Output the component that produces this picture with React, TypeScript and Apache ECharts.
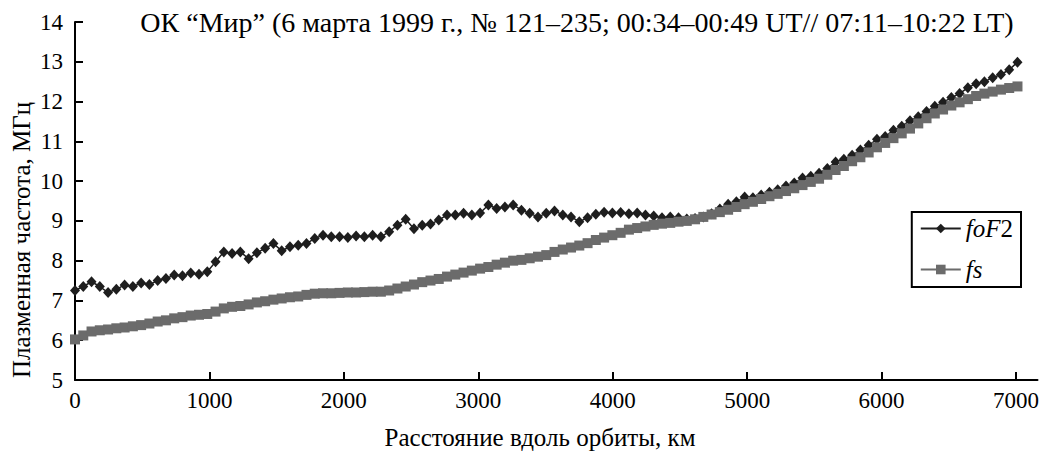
import React, { useEffect, useRef } from "react";
import * as echarts from "echarts";

// measurement step along the orbit (№ 121–235 → 115 points)
const KM_PER_POINT = 61.5;

const foF2Values = [
  7.25, 7.35, 7.47, 7.35, 7.2, 7.28, 7.39, 7.35, 7.44, 7.4,
  7.5, 7.55, 7.64, 7.62, 7.69, 7.66, 7.72, 7.97, 8.22, 8.18,
  8.22, 8.05, 8.2, 8.31, 8.43, 8.25, 8.35, 8.39, 8.43, 8.56,
  8.64, 8.6, 8.6, 8.58, 8.62, 8.6, 8.64, 8.6, 8.73, 8.89,
  9.04, 8.8, 8.89, 8.92, 9.02, 9.15, 9.15, 9.19, 9.15, 9.2,
  9.4, 9.31, 9.35, 9.4, 9.27, 9.19, 9.1, 9.19, 9.25, 9.15,
  9.1, 8.98, 9.08, 9.17, 9.22, 9.2, 9.21, 9.18, 9.2, 9.15,
  9.12, 9.08, 9.1, 9.08, 9.05, 9.06, 9.1, 9.18, 9.3, 9.42,
  9.48, 9.6, 9.58, 9.65, 9.72, 9.78, 9.88, 9.95, 10.08, 10.12,
  10.2, 10.32, 10.48, 10.55, 10.65, 10.78, 10.9, 11.05, 11.12, 11.28,
  11.38, 11.52, 11.62, 11.75, 11.88, 11.98, 12.1, 12.2, 12.35, 12.45,
  12.5, 12.6, 12.68, 12.8, 12.99,
];

const fsValues = [
  6.02, 6.12, 6.22, 6.25, 6.27, 6.3, 6.32, 6.35, 6.38, 6.42,
  6.47, 6.5, 6.55, 6.58, 6.62, 6.64, 6.66, 6.72, 6.8, 6.84,
  6.86, 6.9, 6.95, 6.98, 7.02, 7.05, 7.08, 7.1, 7.14, 7.17,
  7.18, 7.18, 7.19, 7.2, 7.2, 7.21, 7.22, 7.22, 7.25, 7.3,
  7.35, 7.4, 7.46, 7.5, 7.54, 7.6, 7.65, 7.7, 7.75, 7.8,
  7.84, 7.9, 7.95, 8.0, 8.02, 8.06, 8.1, 8.14, 8.22, 8.28,
  8.33, 8.38, 8.44, 8.52, 8.58, 8.64, 8.7, 8.78, 8.82, 8.86,
  8.9, 8.93, 8.95, 8.98, 9.0, 9.04, 9.1, 9.16, 9.22, 9.28,
  9.35, 9.42, 9.48, 9.55, 9.62, 9.68, 9.75, 9.82, 9.9, 9.98,
  10.06, 10.16, 10.28, 10.38, 10.5, 10.6, 10.72, 10.85, 10.96, 11.08,
  11.2, 11.32, 11.45, 11.58, 11.7, 11.8, 11.9, 11.98, 12.06, 12.14,
  12.2, 12.25, 12.3, 12.34, 12.38,
];

const xTicks = [0, 1000, 2000, 3000, 4000, 5000, 6000, 7000];
const seriesNames = ["foF2", "fs"];
const titleText =
  "ОК “Мир” (6 марта 1999 г., № 121–235; 00:34–00:49 UT// 07:11–10:22 LT)";
const xAxisTitle = "Расстояние вдоль орбиты, км";
const yAxisTitle = "Плазменная частота, МГц";

const FONT = "Liberation Serif";

export default function App() {
  const ref = useRef<HTMLDivElement>(null);

  useEffect(() => {
    if (!ref.current) return;
    const chart = echarts.init(ref.current, null, { renderer: "svg" });
    const toPairs = (vals: number[]) =>
      vals.map((v, i) => [i * KM_PER_POINT, v]);

    chart.setOption({
      animation: false,
      backgroundColor: "#ffffff",
      textStyle: { fontFamily: FONT },
      grid: { left: 75, right: 2, top: 22, bottom: 72, containLabel: false },
      graphic: [
        {
          type: "text",
          x: 577,
          y: 22,
          style: {
            text: titleText,
            fontFamily: FONT,
            fontSize: 28,
            fill: "#000",
            align: "center",
            verticalAlign: "middle",
          },
        },
        {
          type: "text",
          x: 540,
          y: 437,
          style: {
            text: xAxisTitle,
            fontFamily: FONT,
            fontSize: 25,
            fill: "#000",
            align: "center",
            verticalAlign: "middle",
          },
        },
        {
          type: "text",
          x: 21,
          y: 240,
          rotation: Math.PI / 2,
          style: {
            text: yAxisTitle,
            fontFamily: FONT,
            fontSize: 25,
            fill: "#000",
            align: "center",
            verticalAlign: "middle",
          },
        },
      ],
      legend: {
        data: seriesNames,
        orient: "vertical",
        right: 21,
        top: 212,
        borderColor: "#000",
        borderWidth: 2,
        padding: [4, 8, 5, 8],
        itemGap: 16,
        itemWidth: 40,
        itemHeight: 12,
        backgroundColor: "#fff",
        formatter: (name: string) =>
          name === "foF2" ? "{i|foF}{n|2}" : "{i|fs}",
        textStyle: {
          fontFamily: FONT,
          fontSize: 25,
          color: "#000",
          lineHeight: 25,
          rich: {
            i: { fontStyle: "italic", fontSize: 25, fontFamily: FONT, lineHeight: 25 },
            n: { fontSize: 25, fontFamily: FONT, lineHeight: 25 },
          },
        },
      },
      xAxis: {
        type: "value",
        min: 0,
        max: 7160,
        interval: 1000,
        splitLine: { show: false },
        axisLine: { lineStyle: { color: "#000", width: 2 } },
        axisTick: {
          inside: true,
          length: 8,
          lineStyle: { color: "#000", width: 2 },
          customValues: xTicks,
        },
        axisLabel: {
          color: "#000",
          fontSize: 23,
          fontFamily: FONT,
          margin: 9,
          customValues: xTicks,
          formatter: (v: number) => String(v),
        },
      },
      yAxis: {
        type: "value",
        min: 5,
        max: 14,
        interval: 1,
        splitLine: { show: false },
        axisLine: { lineStyle: { color: "#000", width: 2 } },
        axisTick: {
          inside: true,
          length: 8,
          lineStyle: { color: "#000", width: 2 },
        },
        axisLabel: {
          color: "#000",
          fontSize: 23,
          fontFamily: FONT,
          margin: 12,
        },
      },
      series: [
        {
          name: "foF2",
          type: "line",
          data: toPairs(foF2Values),
          symbol: "diamond",
          symbolSize: [10, 11],
          showAllSymbol: true,
          itemStyle: { color: "#1e1e1e" },
          lineStyle: { color: "#1e1e1e", width: 1.5 },
        },
        {
          name: "fs",
          type: "line",
          data: toPairs(fsValues),
          symbol: "rect",
          symbolSize: 10,
          showAllSymbol: true,
          itemStyle: { color: "#6b6b6b" },
          lineStyle: { color: "#6b6b6b", width: 1.5 },
        },
      ],
    });

    return () => chart.dispose();
  }, []);

  return (
    <div
      ref={ref}
      style={{
        position: "fixed",
        left: 0,
        top: 0,
        width: 1042,
        height: 452,
      }}
    />
  );
}
